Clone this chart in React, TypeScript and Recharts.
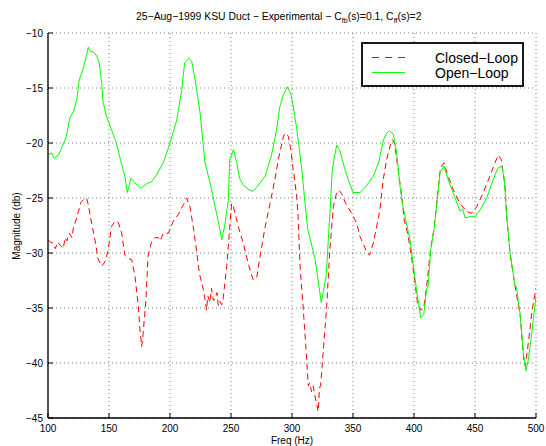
import React from 'react';
import { LineChart, Line, XAxis, YAxis, CartesianGrid, Customized } from 'recharts';

const clFreq = [100, 102, 104, 106, 108, 110, 112.5, 114, 115.5, 117.5, 119.5, 121, 123, 125, 127, 129.5, 131.6, 133, 135.8, 138.5, 141, 144, 146.7, 149.4, 152, 155, 157.6, 160.4, 163, 165.8, 168.6, 171.3, 174, 175.4, 176.8, 178, 180.3, 182, 185, 187.7, 190.4, 192, 194.5, 198.6, 200.5, 202.7, 206.8, 211, 213.7, 216.4, 219, 221.3, 224, 227.3, 228.7, 230, 231, 232.8, 234, 235.5, 237, 238.5, 239.6, 241, 242.4, 243.5, 246.5, 248.6, 250.5, 252, 256, 260, 264, 268, 271, 273.8, 278, 282, 286, 288.8, 293, 294.3, 297, 299, 301, 303.9, 305, 306.6, 309.3, 311.5, 313.4, 314.5, 316, 317.5, 318.8, 320, 321.5, 322.5, 323.5, 325.7, 328.4, 331, 333.9, 336.6, 338.5, 340.7, 344, 349, 353, 355.7, 359, 361, 363.5, 366.6, 369.4, 372, 374.8, 377.6, 380.3, 382.2, 384, 387, 390, 392, 395, 398, 401, 403, 405.5, 408, 410.4, 413.7, 416.4, 419, 421.3, 422.7, 424.6, 427, 432, 437.7, 443, 447, 451.4, 456.8, 462.3, 466.4, 469, 471.5, 474.6, 476, 478.7, 482.8, 487.2, 489.9, 491.3, 494, 496.8, 500];
const clMag = [-28.8, -29.0, -29.1, -29.6, -29.0, -29.3, -29.6, -28.6, -28.9, -28.2, -28.6, -27.6, -27.0, -26.2, -25.4, -25.1, -25.0, -25.6, -27.3, -28.8, -30.5, -31.2, -30.8, -29.7, -27.6, -27.1, -27.2, -28.2, -30.2, -30.5, -30.6, -32.1, -34.8, -37.0, -38.5, -37.3, -34.2, -30.3, -28.9, -28.6, -28.6, -28.9, -28.2, -28.2, -27.7, -27.1, -26.5, -25.6, -25.0, -25.8, -27.6, -29.4, -31.8, -33.3, -34.2, -35.2, -33.9, -34.5, -33.2, -34.3, -34.2, -33.6, -34.8, -34.4, -34.7, -34.2, -31.2, -28.2, -25.5, -25.8, -27.6, -29.1, -30.9, -32.4, -32.3, -30.3, -27.6, -25.5, -23.3, -21.5, -19.4, -19.1, -19.4, -20.6, -22.4, -24.9, -26.7, -31.2, -35.2, -38.8, -42.1, -41.8, -42.6, -42.1, -43.0, -43.6, -44.4, -42.3, -42.0, -38.8, -34.9, -29.7, -25.8, -24.5, -24.3, -24.6, -25.5, -26.4, -27.3, -28.5, -29.3, -29.9, -30.2, -29.1, -27.6, -26.1, -23.3, -21.5, -20.3, -19.7, -20.0, -22.4, -24.9, -27.0, -28.3, -30.4, -32.8, -34.7, -35.2, -35.0, -33.0, -29.6, -27.8, -25.0, -22.6, -22.1, -21.8, -22.7, -24.2, -25.5, -26.2, -26.4, -25.8, -24.5, -23.0, -21.8, -21.1, -21.5, -23.9, -26.7, -30.0, -33.0, -35.8, -39.7, -40.3, -37.9, -35.2, -33.2];

const olFreq = [100, 103, 105, 108.5, 111, 114, 115, 118, 121, 123.5, 125.7, 129, 131, 133, 135, 137, 140, 142, 144, 145, 148, 152, 156, 160, 163, 165, 168, 171, 176, 178.5, 181, 185, 189, 194.5, 200, 205.5, 209.6, 212, 215.5, 217.8, 220.5, 224.6, 228.7, 231.4, 234, 237, 241, 242.4, 245, 247.8, 249, 252, 254.7, 257, 260, 264, 268, 272, 278, 283, 287.4, 290, 293, 296, 299, 301, 304, 308, 310.7, 313, 319, 324, 328, 331.7, 333, 336.6, 339, 342.6, 346, 350, 356, 361, 366.6, 371, 375, 377.6, 380, 383, 385.8, 388.5, 391, 396.7, 399.5, 402, 405.5, 408, 410.4, 411.5, 413.7, 416.4, 419, 421.3, 424.6, 427, 432, 437.7, 440, 441.8, 446, 450, 454, 459.6, 465, 468.6, 472, 474, 476, 478.7, 482.8, 484, 486.9, 489.6, 491.8, 493.7, 496.5, 500];
const olMag = [-21.1, -20.9, -21.4, -21.1, -20.5, -19.7, -19.4, -17.7, -17.1, -16.1, -14.2, -13.2, -12.3, -11.3, -11.7, -11.7, -12.1, -12.7, -14.5, -16.2, -17.6, -18.8, -20.0, -21.8, -23.0, -24.5, -23.2, -23.6, -24.1, -23.9, -23.7, -23.5, -22.9, -21.8, -20.0, -17.9, -15.2, -12.7, -12.3, -12.6, -14.2, -17.2, -21.8, -23.0, -24.2, -25.8, -27.9, -28.8, -27.4, -25.2, -21.5, -20.6, -21.8, -23.2, -23.8, -24.2, -24.4, -23.9, -23.0, -21.2, -18.8, -16.7, -15.6, -14.9, -15.5, -16.7, -18.8, -22.4, -25.5, -27.9, -30.6, -34.5, -32.1, -25.2, -22.4, -20.2, -20.6, -22.1, -23.3, -24.5, -24.5, -23.9, -23.0, -21.8, -19.7, -19.1, -18.9, -19.2, -20.9, -23.9, -25.8, -28.8, -31.2, -33.3, -35.9, -35.6, -33.2, -33.1, -29.7, -27.9, -25.2, -22.7, -22.1, -23.0, -24.5, -26.2, -26.0, -26.8, -26.7, -26.7, -26.1, -25.0, -23.3, -22.3, -22.1, -23.3, -26.7, -30.0, -33.0, -33.1, -35.5, -39.1, -40.7, -39.7, -37.3, -33.9];

const xTicks = [100, 150, 200, 250, 300, 350, 400, 450, 500];
const yTicks = [-45, -40, -35, -30, -25, -20, -15, -10];

const closedData = clFreq.map((f, i) => ({ f, v: clMag[i] }));
const openData = olFreq.map((f, i) => ({ f, v: olMag[i] }));

const FONT = '"Liberation Sans", Arial, Helvetica, sans-serif';
const fmt = (v: number) => String(v).replace('-', '\u2212');

const BottomTick = (p: any) => (
  <g>
    <line x1={p.x} y1={p.y} x2={p.x} y2={p.y - 5} stroke="#000" strokeWidth={1} />
    <text x={p.x} y={p.y + 14} textAnchor="middle" fontSize={10} fontFamily={FONT} fill="#000">{fmt(p.payload.value)}</text>
  </g>
);
const TopTick = (p: any) => (
  <line x1={p.x} y1={p.y} x2={p.x} y2={p.y + 5} stroke="#000" strokeWidth={1} />
);
const LeftTick = (p: any) => (
  <g>
    <line x1={p.x} y1={p.y} x2={p.x + 5} y2={p.y} stroke="#000" strokeWidth={1} />
    <text x={p.x - 5} y={p.y + 3.5} textAnchor="end" fontSize={10} fontFamily={FONT} fill="#000">{fmt(p.payload.value)}</text>
  </g>
);
const RightTick = (p: any) => (
  <line x1={p.x} y1={p.y} x2={p.x - 5} y2={p.y} stroke="#000" strokeWidth={1} />
);

const Decor = () => (
  <g fontFamily={FONT} fill="#000">
    <text x={136} y={20} fontSize={10.4}>
      <tspan>25{'\u2212'}Aug{'\u2212'}1999 KSU Duct {'\u2212'} Experimental {'\u2212'} C</tspan>
      <tspan fontSize={7.2} dy={3}>fb</tspan>
      <tspan dy={-3}>(s)=0.1, C</tspan>
      <tspan fontSize={7.2} dy={3}>ff</tspan>
      <tspan dy={-3}>(s)=2</tspan>
    </text>
    <text x={292} y={444} fontSize={10} textAnchor="middle">Freq (Hz)</text>
    <text x={20} y={226} fontSize={10} textAnchor="middle" transform="rotate(-90 20 226)">Magnitude (db)</text>
    <rect x={362} y={43} width={161} height={43} fill="#fff" stroke="#000" strokeWidth={1.8} />
    <line x1={372} y1={57.5} x2={405} y2={57.5} stroke="#ff0000" strokeWidth={1} strokeDasharray="7 6" />
    <line x1={372} y1={72.5} x2={405} y2={72.5} stroke="#00ff00" strokeWidth={1} />
    <text x={435} y={62.5} fontSize={14}>Closed{'\u2212'}Loop</text>
    <text x={435} y={77.5} fontSize={14}>Open{'\u2212'}Loop</text>
  </g>
);

export default function App() {
  return (
    <div style={{ position: 'absolute', left: 0, top: 0, width: 546, height: 446, background: '#fff' }}>
      <LineChart width={546} height={446} margin={{ top: 33, right: 10, bottom: 8, left: 8 }}>
        <CartesianGrid stroke="#555" strokeDasharray="1 3" strokeWidth={0.8} horizontalValues={yTicks} verticalValues={xTicks} />
        <XAxis dataKey="f" type="number" domain={[100, 500]} ticks={xTicks} allowDataOverflow height={20}
          tickSize={0} tickMargin={0} tickLine={false} axisLine={{ stroke: '#000', strokeWidth: 1.3 }} tick={<BottomTick />} interval={0} />
        <XAxis xAxisId="top" orientation="top" dataKey="f" type="number" domain={[100, 500]} ticks={xTicks} allowDataOverflow height={0}
          tickSize={0} tickMargin={0} tickLine={false} axisLine={{ stroke: '#000', strokeWidth: 1.3 }} tick={<TopTick />} interval={0} />
        <YAxis type="number" domain={[-45, -10]} ticks={yTicks} allowDataOverflow width={40}
          tickSize={0} tickMargin={0} tickLine={false} axisLine={{ stroke: '#000', strokeWidth: 1.3 }} tick={<LeftTick />} interval={0} />
        <YAxis yAxisId="right" orientation="right" type="number" domain={[-45, -10]} ticks={yTicks} allowDataOverflow width={0}
          tickSize={0} tickMargin={0} tickLine={false} axisLine={{ stroke: '#000', strokeWidth: 1.3 }} tick={<RightTick />} interval={0} />
        <Line data={closedData} dataKey="v" type="linear" stroke="#ff0000" strokeWidth={1} strokeDasharray="6 4" dot={false} isAnimationActive={false} />
        <Line data={openData} dataKey="v" type="linear" stroke="#00ff00" strokeWidth={1} dot={false} isAnimationActive={false} />
        <Customized component={Decor} />
      </LineChart>
    </div>
  );
}
